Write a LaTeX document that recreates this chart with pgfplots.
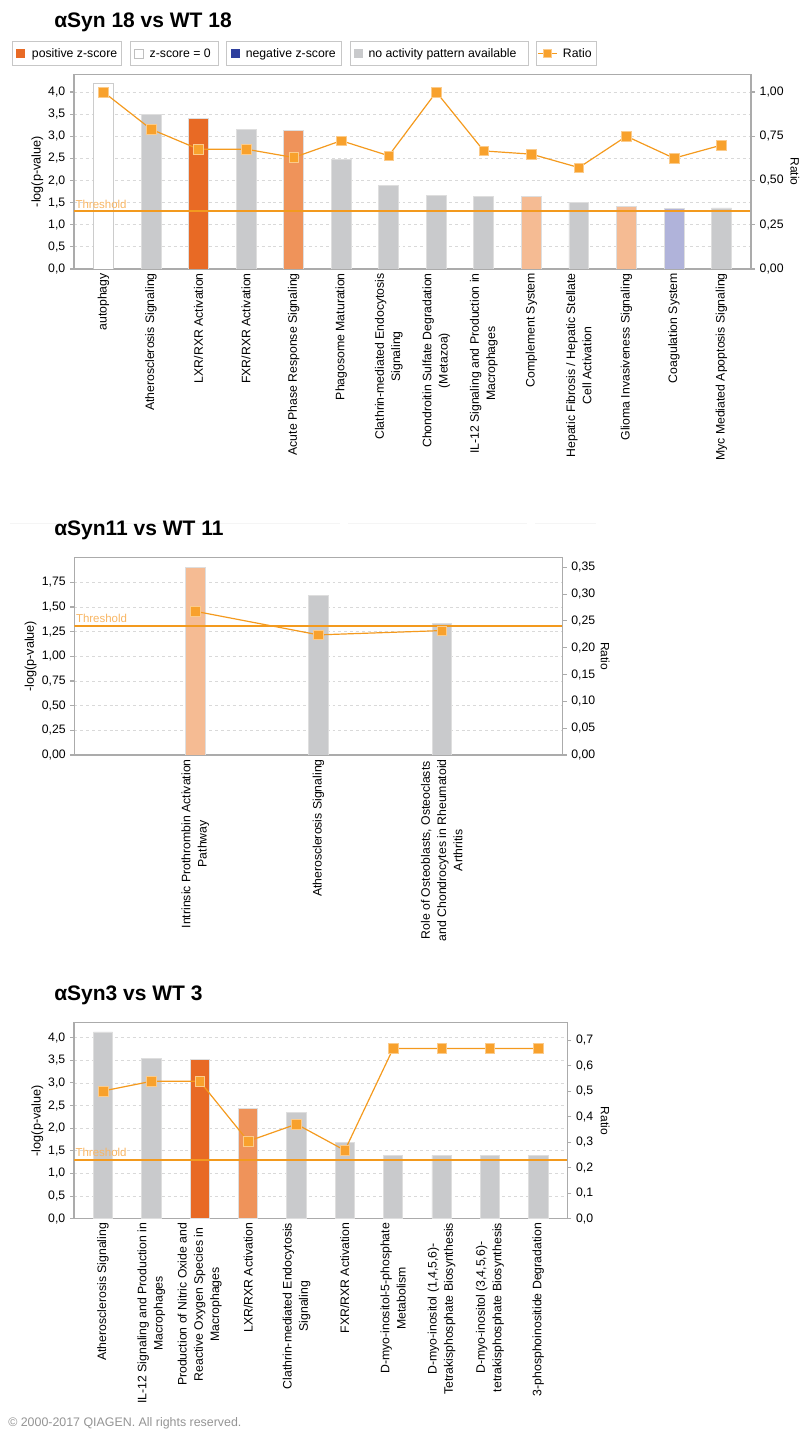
\documentclass[border=0pt]{standalone}
\usepackage{fontspec}
\setmainfont{Liberation Sans}
\usepackage{pgfplots}
\pgfplotsset{compat=1.18}
\definecolor{posor}{HTML}{E86A25}
\definecolor{medor}{HTML}{EF935A}
\definecolor{peach}{HTML}{F5BB93}
\definecolor{lav}{HTML}{B0B3DA}
\definecolor{barg}{HTML}{C9CACC}
\definecolor{negbl}{HTML}{2E3F9E}
\definecolor{ratioc}{HTML}{F49A1E}
\definecolor{ratiom}{HTML}{F8A12C}
\definecolor{thr}{HTML}{F39A1E}
\definecolor{thrtxt}{HTML}{F8B664}
\definecolor{spine}{HTML}{ABABAB}
\definecolor{gridc}{HTML}{D9D9D9}
\pgfplotsset{
  ipabase/.style={
    scale only axis,
    axis line style={spine, line width=0.8pt},
    tick style={spine, line width=0.8pt},
    tick align=outside,
    major tick length=3pt,
    /pgf/number format/assume math mode=true,
    /pgf/number format/use comma,
    /pgf/number format/fixed,
    /pgf/number format/fixed zerofill,
    yticklabel style={font=\fontsize{9.2}{10}\selectfont, text=black},
  },
  ipaL/.style={ipabase,
    ytick pos=left,
    xtick pos=bottom,
    xtick style={draw=none},
    ymajorgrids,
    grid style={gridc, dash pattern=on 2.2pt off 2.2pt, line width=0.6pt},
    xticklabel style={rotate=90, anchor=east, align=center, inner sep=0pt, font=\fontsize{9.2}{12.2}\selectfont},
  },
  ipaR/.style={ipabase,
    axis y line*=right,
    axis x line=none,
    yticklabel style={anchor=west},
  },
  bars/.style={ybar, bar shift=0pt, draw=black!13, line width=0.6pt},
  ratioline/.style={ratioc, line width=0.9pt, mark=square*, mark size=3.6pt, mark options={fill=ratiom, draw=ratiom!55!white, line width=0.4pt, solid}},
  thrline/.style={thr, line width=1.5pt},
}
\begin{document}
\begin{tikzpicture}[x=0.75pt, y=0.75pt]
\path[use as bounding box] (0,0) rectangle (801,1432);
\coordinate (P1) at (74,1163);
\coordinate (P2) at (74.4,677);
\coordinate (P3) at (74,213.3);

\draw[black!4, line width=0.75pt] (10,908)--(340,908) (348,908)--(527,908) (535,908)--(596,908);

% ---------------- titles, legend, footer
\node[anchor=base west, inner sep=0pt, font=\fontsize{15.75}{18}\selectfont\bfseries] at (54,1404) {αSyn 18 vs WT 18};
\node[anchor=base west, inner sep=0pt, font=\fontsize{15.75}{18}\selectfont\bfseries] at (54,896) {αSyn11 vs WT 11};
\node[anchor=base west, inner sep=0pt, font=\fontsize{15.75}{18}\selectfont\bfseries] at (54,431) {αSyn3 vs WT 3};

\begin{scope}[font=\fontsize{9.2}{10}\selectfont]
\foreach \a/\b in {12.8/121.5,130.8/218,226.7/341,350/528,536.4/596.4}
  \draw[black!22, line width=0.75pt] (\a,1366) rectangle (\b,1390.3);
\fill[posor] (16.4,1374) rectangle (25.4,1383);
\node[anchor=base west, inner sep=0pt] at (31.7,1374.5) {positive z-score};
\filldraw[fill=white, draw=black!25, line width=0.6pt] (134.3,1374) rectangle (143.3,1383);
\node[anchor=base west, inner sep=0pt] at (149.4,1374.5) {z-score = 0};
\fill[negbl] (230.5,1374) rectangle (239.5,1383);
\node[anchor=base west, inner sep=0pt] at (245.5,1374.5) {negative z-score};
\fill[barg] (353.5,1374) rectangle (362.5,1383);
\node[anchor=base west, inner sep=0pt] at (368.3,1374.5) {no activity pattern available};
\draw[ratioc, line width=1.2pt] (538,1378.5) -- (556.5,1378.5);
\filldraw[fill=ratiom, draw=ratiom!55!white, line width=0.4pt] (543.3,1374.5) rectangle (551.3,1382.5);
\node[anchor=base west, inner sep=0pt] at (562.7,1374.5) {Ratio};
\end{scope}

\node[anchor=base west, inner sep=0pt, text=black!42, font=\fontsize{9.3}{10}\selectfont] at (8,6) {© 2000-2017 QIAGEN. All rights reserved.};

% ================= Panel 1
\begin{axis}[ipaL,
  at={(P1)}, anchor=south west,
  width=507.75pt, height=146pt,
  xmin=-0.62, xmax=13.62, ymin=0, ymax=4.4,
  ytick={0,0.5,1,1.5,2,2.5,3,3.5,4},
  yticklabel style={/pgf/number format/precision=1},
  xtick={0,...,13},
  xticklabels={{autophagy},{Atherosclerosis Signaling},{LXR/RXR Activation},{FXR/RXR Activation},{Acute Phase Response Signaling},{Phagosome Maturation},{Clathrin-mediated Endocytosis\\Signaling},{Chondroitin Sulfate Degradation\\(Metazoa)},{IL-12 Signaling and Production in\\Macrophages},{Complement System},{Hepatic Fibrosis / Hepatic Stellate\\Cell Activation},{Glioma Invasiveness Signaling},{Coagulation System},{Myc Mediated Apoptosis Signaling}},
  ylabel={-log(p-value)},
  every axis y label/.style={at={([xshift=-27.4pt]axis description cs:0,0.5)}, anchor=center, rotate=90, font=\fontsize{9.5}{10}\selectfont},
]
\addplot[bars, bar width=0.42, fill=white, draw=black!20] coordinates {(0,4.20)};
\addplot[bars, bar width=0.42, fill=barg] coordinates {(1,3.50) (3,3.16) (5,2.47) (6,1.88) (7,1.67) (8,1.63) (10,1.51) (13,1.38)};
\addplot[bars, bar width=0.42, fill=posor] coordinates {(2,3.40)};
\addplot[bars, bar width=0.42, fill=medor] coordinates {(4,3.13)};
\addplot[bars, bar width=0.42, fill=peach] coordinates {(9,1.63) (11,1.41)};
\addplot[bars, bar width=0.42, fill=lav] coordinates {(12,1.38)};
\addplot[thrline] coordinates {(-0.62,1.31) (13.62,1.31)};
\node[anchor=base west, inner sep=0pt, xshift=1pt, yshift=2.2pt, text=thrtxt, font=\fontsize{8.6}{9}\selectfont] at (axis cs:-0.62,1.31) {Threshold};
\end{axis}
\begin{axis}[ipaR,
  at={(P1)}, anchor=south west,
  width=507.75pt, height=146pt,
  xmin=-0.62, xmax=13.62, ymin=0, ymax=1.1,
  ytick={0,0.25,0.5,0.75,1},
  yticklabel style={/pgf/number format/precision=2},
  ylabel={Ratio},
  every axis y label/.style={at={([xshift=33pt]axis description cs:1,0.5)}, anchor=center, rotate=-90, font=\fontsize{9}{10}\selectfont},
]
\addplot[ratioline] coordinates {(0,1.00) (1,0.79) (2,0.677) (3,0.677) (4,0.63) (5,0.725) (6,0.64) (7,1.00) (8,0.667) (9,0.649) (10,0.573) (11,0.75) (12,0.626) (13,0.70)};
\end{axis}

% ================= Panel 2
\begin{axis}[ipaL,
  at={(P2)}, anchor=south west,
  width=366.2pt, height=148pt,
  xmin=-0.98, xmax=2.98, ymin=0, ymax=2.0,
  ytick={0,0.25,0.5,0.75,1,1.25,1.5,1.75},
  yticklabel style={/pgf/number format/precision=2},
  xtick={0,1,2},
  xticklabels={{Intrinsic Prothrombin Activation\\Pathway},{Atherosclerosis Signaling},{Role of Osteoblasts, Osteoclasts\\and Chondrocytes in Rheumatoid\\Arthritis}},
  ylabel={-log(p-value)},
  every axis y label/.style={at={([xshift=-32.8pt]axis description cs:0,0.5)}, anchor=center, rotate=90, font=\fontsize{9.5}{10}\selectfont},
]
\addplot[bars, bar width=0.157, fill=peach] coordinates {(0,1.90)};
\addplot[bars, bar width=0.157, fill=barg] coordinates {(1,1.615) (2,1.334)};
\addplot[thrline] coordinates {(-0.98,1.31) (2.98,1.31)};
\node[anchor=base west, inner sep=0pt, xshift=1pt, yshift=2.2pt, text=thrtxt, font=\fontsize{8.6}{9}\selectfont] at (axis cs:-0.98,1.31) {Threshold};
\end{axis}
\begin{axis}[ipaR,
  at={(P2)}, anchor=south west,
  width=366.2pt, height=148pt,
  xmin=-0.98, xmax=2.98, ymin=0, ymax=0.368,
  ytick={0,0.05,0.1,0.15,0.2,0.25,0.3,0.35},
  yticklabel style={/pgf/number format/precision=2},
  ylabel={Ratio},
  every axis y label/.style={at={([xshift=31.9pt]axis description cs:1,0.5)}, anchor=center, rotate=-90, font=\fontsize{9}{10}\selectfont},
]
\addplot[ratioline] coordinates {(0,0.268) (1,0.224) (2,0.232)};
\end{axis}

% ================= Panel 3
\begin{axis}[ipaL,
  at={(P3)}, anchor=south west,
  width=370pt, height=147pt,
  xmin=-0.6, xmax=9.6, ymin=0, ymax=4.33,
  ytick={0,0.5,1,1.5,2,2.5,3,3.5,4},
  yticklabel style={/pgf/number format/precision=1},
  xtick={0,...,9},
  xticklabels={{Atherosclerosis Signaling},{IL-12 Signaling and Production in\\Macrophages},{Production of Nitric Oxide and\\Reactive Oxygen Species in\\Macrophages},{LXR/RXR Activation},{Clathrin-mediated Endocytosis\\Signaling},{FXR/RXR Activation},{D-myo-inositol-5-phosphate\\Metabolism},{D-myo-inositol (1,4,5,6)-\\Tetrakisphosphate Biosynthesis},{D-myo-inositol (3,4,5,6)-\\tetrakisphosphate Biosynthesis},{3-phosphoinositide Degradation}},
  ylabel={-log(p-value)},
  every axis y label/.style={at={([xshift=-27.5pt]axis description cs:0,0.5)}, anchor=center, rotate=90, font=\fontsize{9.5}{10}\selectfont},
]
\addplot[bars, bar width=0.4, fill=barg] coordinates {(0,4.125) (1,3.54) (4,2.34) (5,1.68) (6,1.40) (7,1.40) (8,1.40) (9,1.40)};
\addplot[bars, bar width=0.4, fill=posor] coordinates {(2,3.52)};
\addplot[bars, bar width=0.4, fill=medor] coordinates {(3,2.43)};
\addplot[thrline] coordinates {(-0.6,1.30) (9.6,1.30)};
\node[anchor=base west, inner sep=0pt, xshift=1pt, yshift=2.2pt, text=thrtxt, font=\fontsize{8.6}{9}\selectfont] at (axis cs:-0.6,1.30) {Threshold};
\end{axis}
\begin{axis}[ipaR,
  at={(P3)}, anchor=south west,
  width=370pt, height=147pt,
  xmin=-0.6, xmax=9.6, ymin=0, ymax=0.769,
  ytick={0,0.1,0.2,0.3,0.4,0.5,0.6,0.7},
  yticklabel style={/pgf/number format/precision=1},
  ylabel={Ratio},
  every axis y label/.style={at={([xshift=28.3pt]axis description cs:1,0.5)}, anchor=center, rotate=-90, font=\fontsize{9}{10}\selectfont},
]
\addplot[ratioline] coordinates {(0,0.501) (1,0.539) (2,0.539) (3,0.304) (4,0.371) (5,0.268) (6,0.668) (7,0.668) (8,0.668) (9,0.668)};
\end{axis}
\end{tikzpicture}
\end{document}
